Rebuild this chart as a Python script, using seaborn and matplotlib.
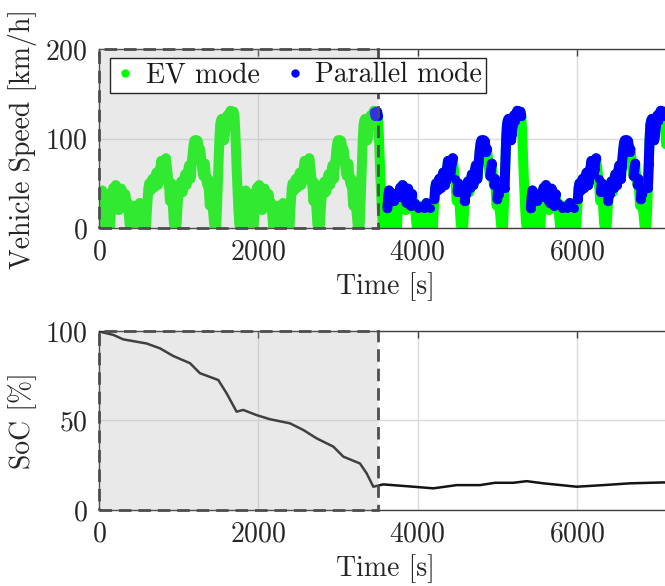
import numpy as np
import pandas as pd
import matplotlib
matplotlib.use("Agg")
import matplotlib.pyplot as plt
from matplotlib.patches import Rectangle
from matplotlib.lines import Line2D
import seaborn as sns

# ---------------- data ----------------
# one drive cycle (WLTC-like), speed in km/h sampled every 10 s
cycle_step = 10
cycle_speed = [
    0, 0, 22, 35, 42, 30, 5, 0, 0, 15, 30, 38, 28, 0, 0, 20, 35, 40, 45, 38,
    42, 48, 44, 35, 30, 20, 28, 38, 44, 40, 32, 25, 30, 38, 30, 22, 28, 20, 8, 0,
    12, 22, 18, 25, 20, 5, 0, 15, 22, 18, 24, 28, 20, 8, 0, 10, 22, 15, 5, 0,
    18, 32, 45, 50, 48, 42, 50, 55, 52, 45, 48, 58, 62, 55, 48, 52, 60, 68, 75, 72,
    65, 60, 66, 74, 78, 70, 62, 55, 45, 30, 40, 50, 38, 20, 5, 0, 0, 0, 15, 30,
    42, 38, 45, 52, 48, 40, 45, 55, 60, 52, 48, 55, 65, 70, 62, 55, 68, 78, 88, 95,
    98, 96, 92, 98, 97, 90, 85, 88, 80, 70, 62, 58, 65, 72, 60, 52, 48, 55, 40, 25,
    32, 45, 38, 20, 10, 0, 0, 0, 20, 45, 72, 98, 115, 120, 122, 115, 102, 98, 105, 115,
    122, 126, 120, 124, 128, 131, 129, 125, 128, 130, 125, 110, 85, 60, 40, 20, 5, 0, 0, 0,
]
n_cycles = 4
cs_start = 3460          # start of charge-sustaining (parallel allowed)
ev_box_end = 3500        # end of the shaded charge-depleting window

soc_time = [0, 12, 180, 305, 598, 765, 932, 1142, 1267, 1497, 1601, 1727, 1810,
            1978, 2146, 2397, 2564, 2732, 2941, 3066, 3275, 3359, 3443, 3568,
            3945, 4196, 4489, 4782, 4970, 5200, 5368, 5577, 5995, 6330, 6665, 7084, 7200]
soc_value = [100, 99.6, 97.8, 95.3, 93, 90.3, 86, 82, 76.4, 72.6, 65.2, 54.9, 55.9,
             53, 50.7, 48.4, 44.7, 40, 35.4, 29.8, 26, 20.5, 13, 14.3,
             13, 12.1, 13.9, 13.9, 15.2, 15.2, 16.1, 14.9, 13, 13.9, 14.9, 15.4, 15.2]

x_ticks = [0, 2000, 4000, 6000]
speed_ticks = [0, 100, 200]
soc_ticks = [0, 50, 100]
labels = {"time": "Time [s]", "speed": "Vehicle Speed [km/h]", "soc": "SoC [%]",
          "ev": "EV mode", "par": "Parallel mode"}

# ---------------- build frame ----------------
speed = np.array(cycle_speed * n_cycles, dtype=float)
time = np.arange(len(speed)) * cycle_step
dv = np.diff(speed, prepend=speed[0])
parallel = (time >= cs_start) & (speed > 20) & (dv > -8)
df = pd.DataFrame({"t": time, "v": speed, "par": parallel})
df["seg"] = (df["par"] != df["par"].shift()).cumsum()
dfb = df[df["par"]]
dsoc = pd.DataFrame({"t": soc_time, "soc": soc_value})

# ---------------- style ----------------
sns.set_style("white")
plt.rcParams["font.family"] = ["cmr10", "DejaVu Serif"]
plt.rcParams["mathtext.fontset"] = "cm"
plt.rcParams["axes.formatter.use_mathtext"] = True
plt.rcParams["font.size"] = 20
plt.rcParams["axes.unicode_minus"] = False

GREEN = (0, 1, 0)
BLUE = (0, 0, 1)
TXT = "0.15"

fig = plt.figure(figsize=(6.65, 5.86), dpi=100)
W = 0.8626
ax1 = fig.add_axes([0.1489, 0.6109, W, 0.3055])
ax2 = fig.add_axes([0.1489, 0.1297, W, 0.3055])

lw = 7.2
sns.lineplot(data=df, x="t", y="v", ax=ax1, color=GREEN, lw=lw, estimator=None,
             solid_capstyle="round", solid_joinstyle="round", zorder=2)
sns.lineplot(data=dfb, x="t", y="v", units="seg", estimator=None, ax=ax1, color=BLUE,
             lw=lw, marker="o", markersize=6.5, markeredgewidth=0,
             solid_capstyle="round", solid_joinstyle="round", zorder=3, legend=False)
sns.lineplot(data=dsoc, x="t", y="soc", ax=ax2, color="0.08", lw=1.8, estimator=None, zorder=3)

for ax, top, ticks in [(ax1, 200, speed_ticks), (ax2, 100, soc_ticks)]:
    ax.set_xlim(0, 7200)
    ax.set_ylim(0, top)
    ax.set_xticks(x_ticks)
    ax.set_yticks(ticks)
    ax.grid(True, color="0.86", lw=1.0)
    ax.set_axisbelow(True)
    ax.tick_params(direction="in", length=5, width=1, colors="0.25", labelcolor=TXT,
                   top=True, right=True, labelsize=20, pad=8)
    for s in ax.spines.values():
        s.set_color("0.25")
        s.set_linewidth(1.0)
    ax.set_xlabel(labels["time"], color=TXT, fontsize=20, labelpad=5)
    ax.add_patch(Rectangle((0, 0), ev_box_end, top, facecolor=(0.7, 0.7, 0.7, 0.28),
                           edgecolor="0.3", lw=2.0, ls=(0, (4.5, 2.5)), zorder=4, clip_on=False))

ax1.set_ylabel(labels["speed"], color=TXT, fontsize=20, labelpad=6)
ax2.set_ylabel(labels["soc"], color=TXT, fontsize=20, labelpad=6)

handles = [Line2D([], [], ls="", marker=".", color=GREEN, ms=10),
           Line2D([], [], ls="", marker=".", color=BLUE, ms=10)]
axw_px = W * 665
leg = ax1.legend(handles, [labels["ev"], labels["par"]], ncol=2, loc="upper left",
                 bbox_to_anchor=((110 - 99) / axw_px, 1 - (58 - 49) / 179), borderaxespad=0,
                 frameon=True, fancybox=False, framealpha=1, edgecolor="0.15",
                 handlelength=0.8, handletextpad=0.35, columnspacing=0.85,
                 borderpad=0.15, fontsize=20)
leg.get_frame().set_linewidth(1.0)
leg.set_zorder(10)
for t in leg.get_texts():
    t.set_color("0.1")

fig.savefig("out.png", dpi=100, facecolor="white")
